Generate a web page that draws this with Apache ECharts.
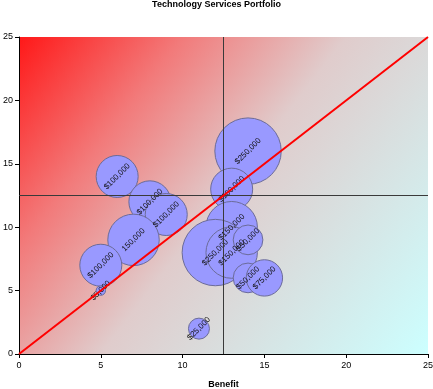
<!DOCTYPE html>
<html><head><meta charset="utf-8">
<script src="https://cdn.jsdelivr.net/npm/echarts@6/dist/echarts.min.js"></script>
<style>html,body{margin:0;padding:0;background:#fff}#c{width:433px;height:389px}</style>
</head><body><div id="c"></div>
<script>
var names = ['$100,000','$100,000','$100,000','150,000','$100,000','$5,000','$25,000','$250,000','$100,000','$150,000','$250,000','$150,000','$50,000','$50,000','$75,000'];
var benefit = [6, 8, 9, 7, 5, 5, 11, 14, 13, 13, 12, 13, 14, 14, 15];
var risk =    [14, 12, 11, 9, 7, 5, 2, 16, 13, 10, 8, 8, 9, 6, 6];
var cost =    [100000,100000,100000,150000,100000,5000,25000,250000,100000,150000,250000,150000,50000,50000,75000];
var axisTicks = [0, 5, 10, 15, 20, 25];

var chart = echarts.init(document.getElementById('c'));
var data = benefit.map(function(b,i){ return {name: names[i], value:[b, risk[i], cost[i]]}; });
var font = '"Liberation Sans", Arial, sans-serif';
chart.setOption({
  animation:false,
  title:{text:'Technology Services Portfolio', left:'center', top:0, padding:0,
    textStyle:{fontSize:9, fontWeight:'bold', fontFamily:font, color:'#000'}},
  grid:{left:19, right:5, top:37, bottom:35, containLabel:false, outerBoundsMode:'none',
    show:true, borderWidth:0,
    backgroundColor:new echarts.graphic.LinearGradient(0,0,1,1,[
      {offset:0,color:'#ff1818'},{offset:0.25,color:'#f27a7a'},{offset:0.5,color:'#e0cccc'},{offset:1,color:'#ccffff'}])},
  xAxis:{type:'value', min:axisTicks[0], max:axisTicks[axisTicks.length-1], interval:5,
    name:'Benefit', nameLocation:'middle', nameGap:26,
    nameTextStyle:{fontSize:9, fontWeight:'bold', fontFamily:font, color:'#000'},
    axisLine:{show:true, onZero:false, lineStyle:{color:'#000', width:1}},
    axisTick:{show:true, length:4, lineStyle:{color:'#000'}},
    axisLabel:{fontSize:9, fontFamily:font, color:'#000', margin:7},
    splitLine:{show:false}},
  yAxis:{type:'value', min:axisTicks[0], max:axisTicks[axisTicks.length-1], interval:5,
    name:'Risk', nameLocation:'middle', nameGap:9, nameRotate:90,
    nameTextStyle:{fontSize:9, fontWeight:'bold', fontFamily:font, color:'#000'},
    axisLine:{show:true, onZero:false, lineStyle:{color:'#000', width:1}},
    axisTick:{show:true, length:4, lineStyle:{color:'#000'}},
    axisLabel:{fontSize:9, fontFamily:font, color:'#000', margin:6},
    splitLine:{show:false}},
  series:[
    {type:'scatter', data:data, z:2,
      symbolSize:function(v){ return 42*Math.sqrt(v[2]/100000); },
      itemStyle:{color:'#9999ff', borderColor:'#6b6b99', borderWidth:1, opacity:1},
      label:{show:true, position:'inside', formatter:'{b}', rotate:45,
        fontSize:8, fontFamily:font, color:'#111'}},
    {type:'line', data:[[0,0],[25,25]], z:5, symbol:'none',
      lineStyle:{color:'#ff0000', width:2}, silent:true,
      markLine:{silent:true, symbol:'none', label:{show:false},
        lineStyle:{color:'#3a3a3a', width:1, type:'solid'},
        data:[{xAxis:12.5},{yAxis:12.5}]}}
  ]
});
</script></body></html>
